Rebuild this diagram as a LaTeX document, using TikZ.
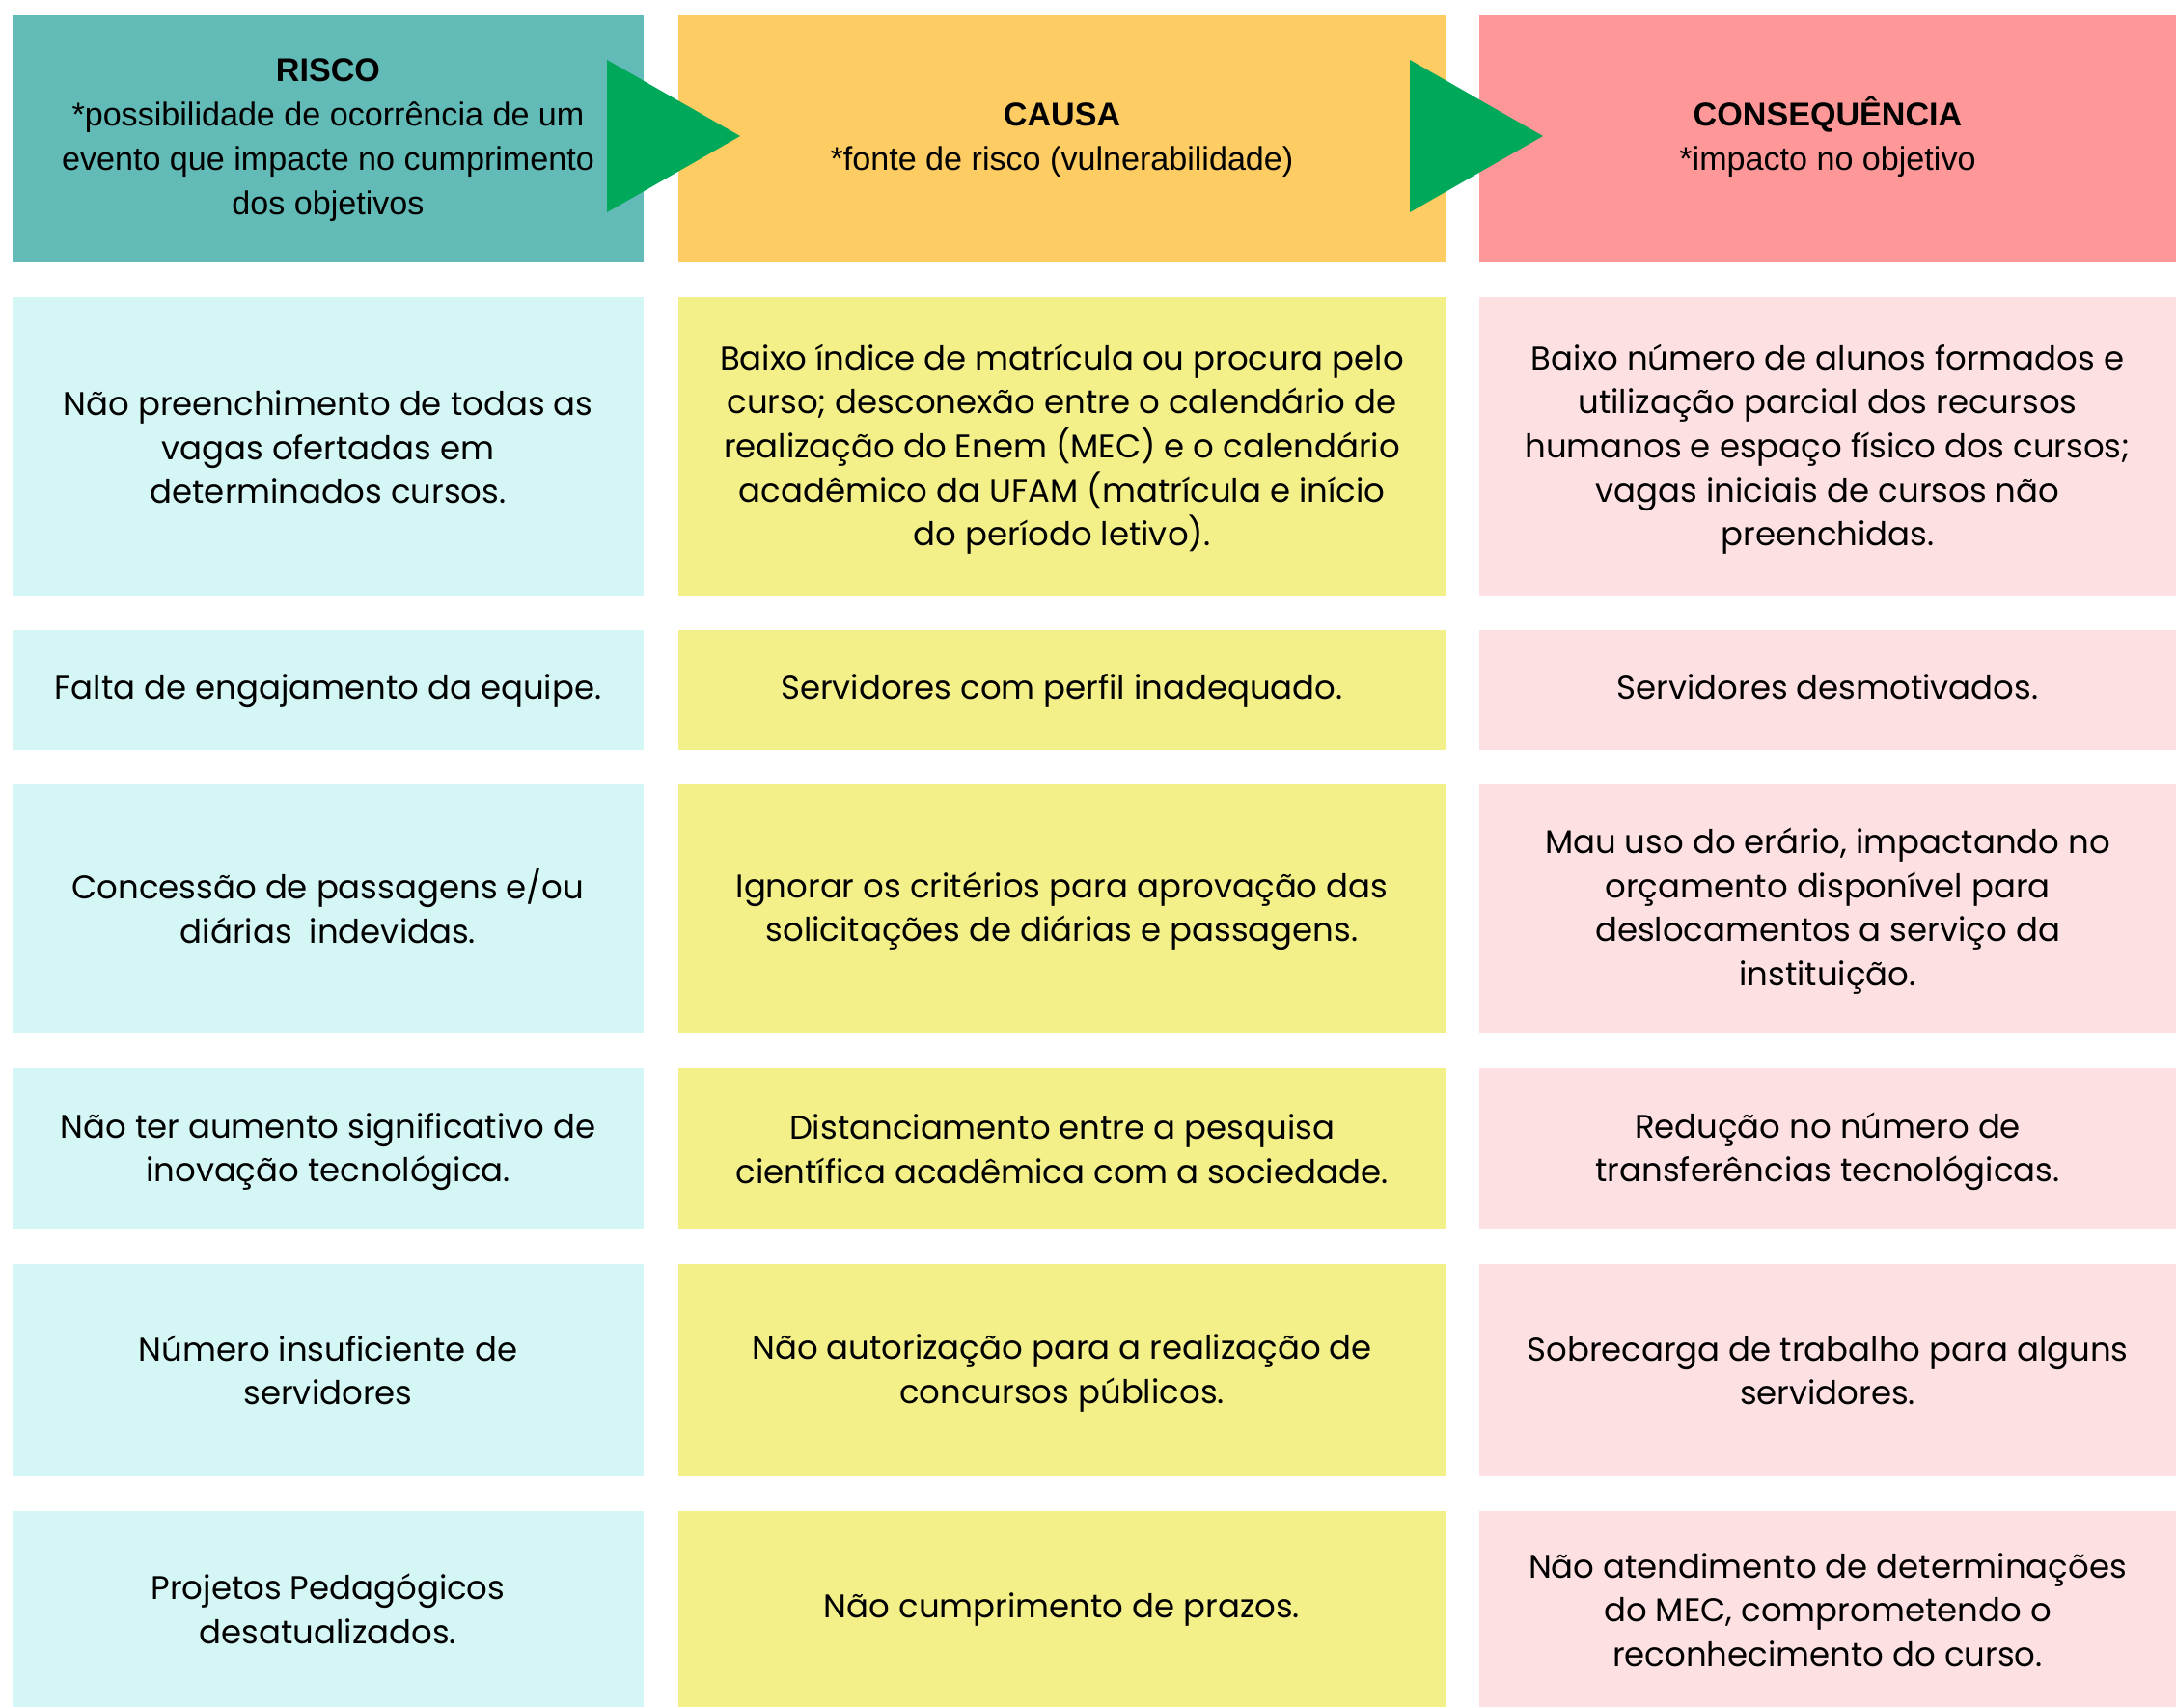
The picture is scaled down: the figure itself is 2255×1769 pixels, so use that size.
\documentclass[tikz,border=0pt]{standalone}
\usepackage{fontspec}
\setmainfont{Poppins}
\newfontfamily\cabecalho{Liberation Sans}

\definecolor{riscoforte}{HTML}{62BBB6}
\definecolor{causaforte}{HTML}{FDCD63}
\definecolor{conseqforte}{HTML}{FE9898}
\definecolor{riscoclaro}{HTML}{D4F6F4}
\definecolor{causaclaro}{HTML}{F3F08A}
\definecolor{conseqclaro}{HTML}{FDE0E1}
\definecolor{setaverde}{HTML}{00A859}

\begin{document}
\begin{tikzpicture}[x=0.01cm, y=-0.01cm]
        % Define styles
        \tikzset{
            celula/.style={rectangle, inner sep=0pt, align=flush center, text=black,
                font=\fontsize{9.65}{12.96}\selectfont,
                execute at begin node=\strut, execute at end node=\rule[-1.6pt]{0pt}{0pt}},
            topo/.style={celula, font=\cabecalho\fontsize{9.7}{13.1}\selectfont,
                execute at end node=\strut},
            riscocol/.style={minimum width=6.54cm, text width=6.54cm},
            causacol/.style={minimum width=7.95cm, text width=7.95cm},
            conseqcol/.style={minimum width=7.22cm, text width=7.22cm},
            risco/.style={celula, riscocol, fill=riscoclaro},
            causa/.style={celula, causacol, fill=causaclaro},
            conseq/.style={celula, conseqcol, fill=conseqclaro},
            seta/.style={fill=setaverde}
        }
        \useasboundingbox (0,0) rectangle (2255,1769);

        % Header
        \node[topo, riscocol, fill=riscoforte, minimum height=2.56cm] (risco_topo) at (340,144) {\textbf{RISCO}\\{}*possibilidade de ocorrência de um\\evento que impacte no cumprimento\\dos objetivos};
        \node[topo, causacol, fill=causaforte, minimum height=2.56cm] (causa_topo) at (1100.5,144) {\textbf{CAUSA}\\{}*fonte de risco (vulnerabilidade)};
        \node[topo, conseqcol, fill=conseqforte, minimum height=2.56cm] (conseq_topo) at (1894,144) {\textbf{CONSEQU\smash{Ê}NCIA}\\{}*impacto no objetivo};

        % Arrows
        \fill[seta] (629,62) -- (629,220) -- (767,141) -- cycle;
        \fill[seta] (1461,62) -- (1461,220) -- (1599,141) -- cycle;

        % Row 1
        \node[risco, minimum height=3.10cm] (risco_node_1) at (340,463) {Não preenchimento de todas as\\vagas ofertadas em\\determinados cursos.};
        \node[causa, minimum height=3.10cm] (causa_node_1) at (1100.5,463) {Baixo índice de matrícula ou procura pelo\\curso; desconexão entre o calendário de\\realização do Enem (MEC) e o calendário\\acadêmico da UFAM (matrícula e início\\do período letivo).};
        \node[conseq, minimum height=3.10cm] (conseq_node_1) at (1894,463) {Baixo número de alunos formados e\\utilização parcial dos recursos\\humanos e espaço físico dos cursos;\\vagas iniciais de cursos não\\preenchidas.};

        % Row 2
        \node[risco, minimum height=1.24cm] (risco_node_2) at (340,715) {Falta de engajamento da equipe.};
        \node[causa, minimum height=1.24cm] (causa_node_2) at (1100.5,715) {Servidores com perfil inadequado.};
        \node[conseq, minimum height=1.24cm] (conseq_node_2) at (1894,715) {Servidores desmotivados.};

        % Row 3
        \node[risco, minimum height=2.59cm] (risco_node_3) at (340,941.5) {Concessão de passagens e/ou\\diárias\ \ indevidas.};
        \node[causa, minimum height=2.59cm] (causa_node_3) at (1100.5,941.5) {Ignorar os critérios para aprovação das\\solicitações de diárias e passagens.};
        \node[conseq, minimum height=2.59cm] (conseq_node_3) at (1894,941.5) {Mau uso do erário, impactando no\\orçamento disponível para\\deslocamentos a serviço da\\instituição.};

        % Row 4
        \node[risco, minimum height=1.67cm] (risco_node_4) at (340,1190.5) {Não ter aumento significativo de\\inovação tecnológica.};
        \node[causa, minimum height=1.67cm] (causa_node_4) at (1100.5,1190.5) {Distanciamento entre a pesquisa\\científica acadêmica com a sociedade.};
        \node[conseq, minimum height=1.67cm] (conseq_node_4) at (1894,1190.5) {Redução no número de\\transferências tecnológicas.};

        % Row 5
        \node[risco, minimum height=2.20cm] (risco_node_5) at (340,1420) {Número insuficiente de\\servidores};
        \node[causa, minimum height=2.20cm] (causa_node_5) at (1100.5,1420) {Não autorização para a realização de\\concursos públicos.};
        \node[conseq, minimum height=2.20cm] (conseq_node_5) at (1894,1420) {Sobrecarga de trabalho para alguns\\servidores.};

        % Row 6
        \node[risco, minimum height=2.03cm] (risco_node_6) at (340,1667.5) {Projetos Pedagógicos\\desatualizados.};
        \node[causa, minimum height=2.03cm] (causa_node_6) at (1100.5,1667.5) {Não cumprimento de prazos.};
        \node[conseq, minimum height=2.03cm] (conseq_node_6) at (1894,1667.5) {Não atendimento de determinações\\do MEC, comprometendo o\\reconhecimento do curso.};
    \end{tikzpicture}
\end{document}
